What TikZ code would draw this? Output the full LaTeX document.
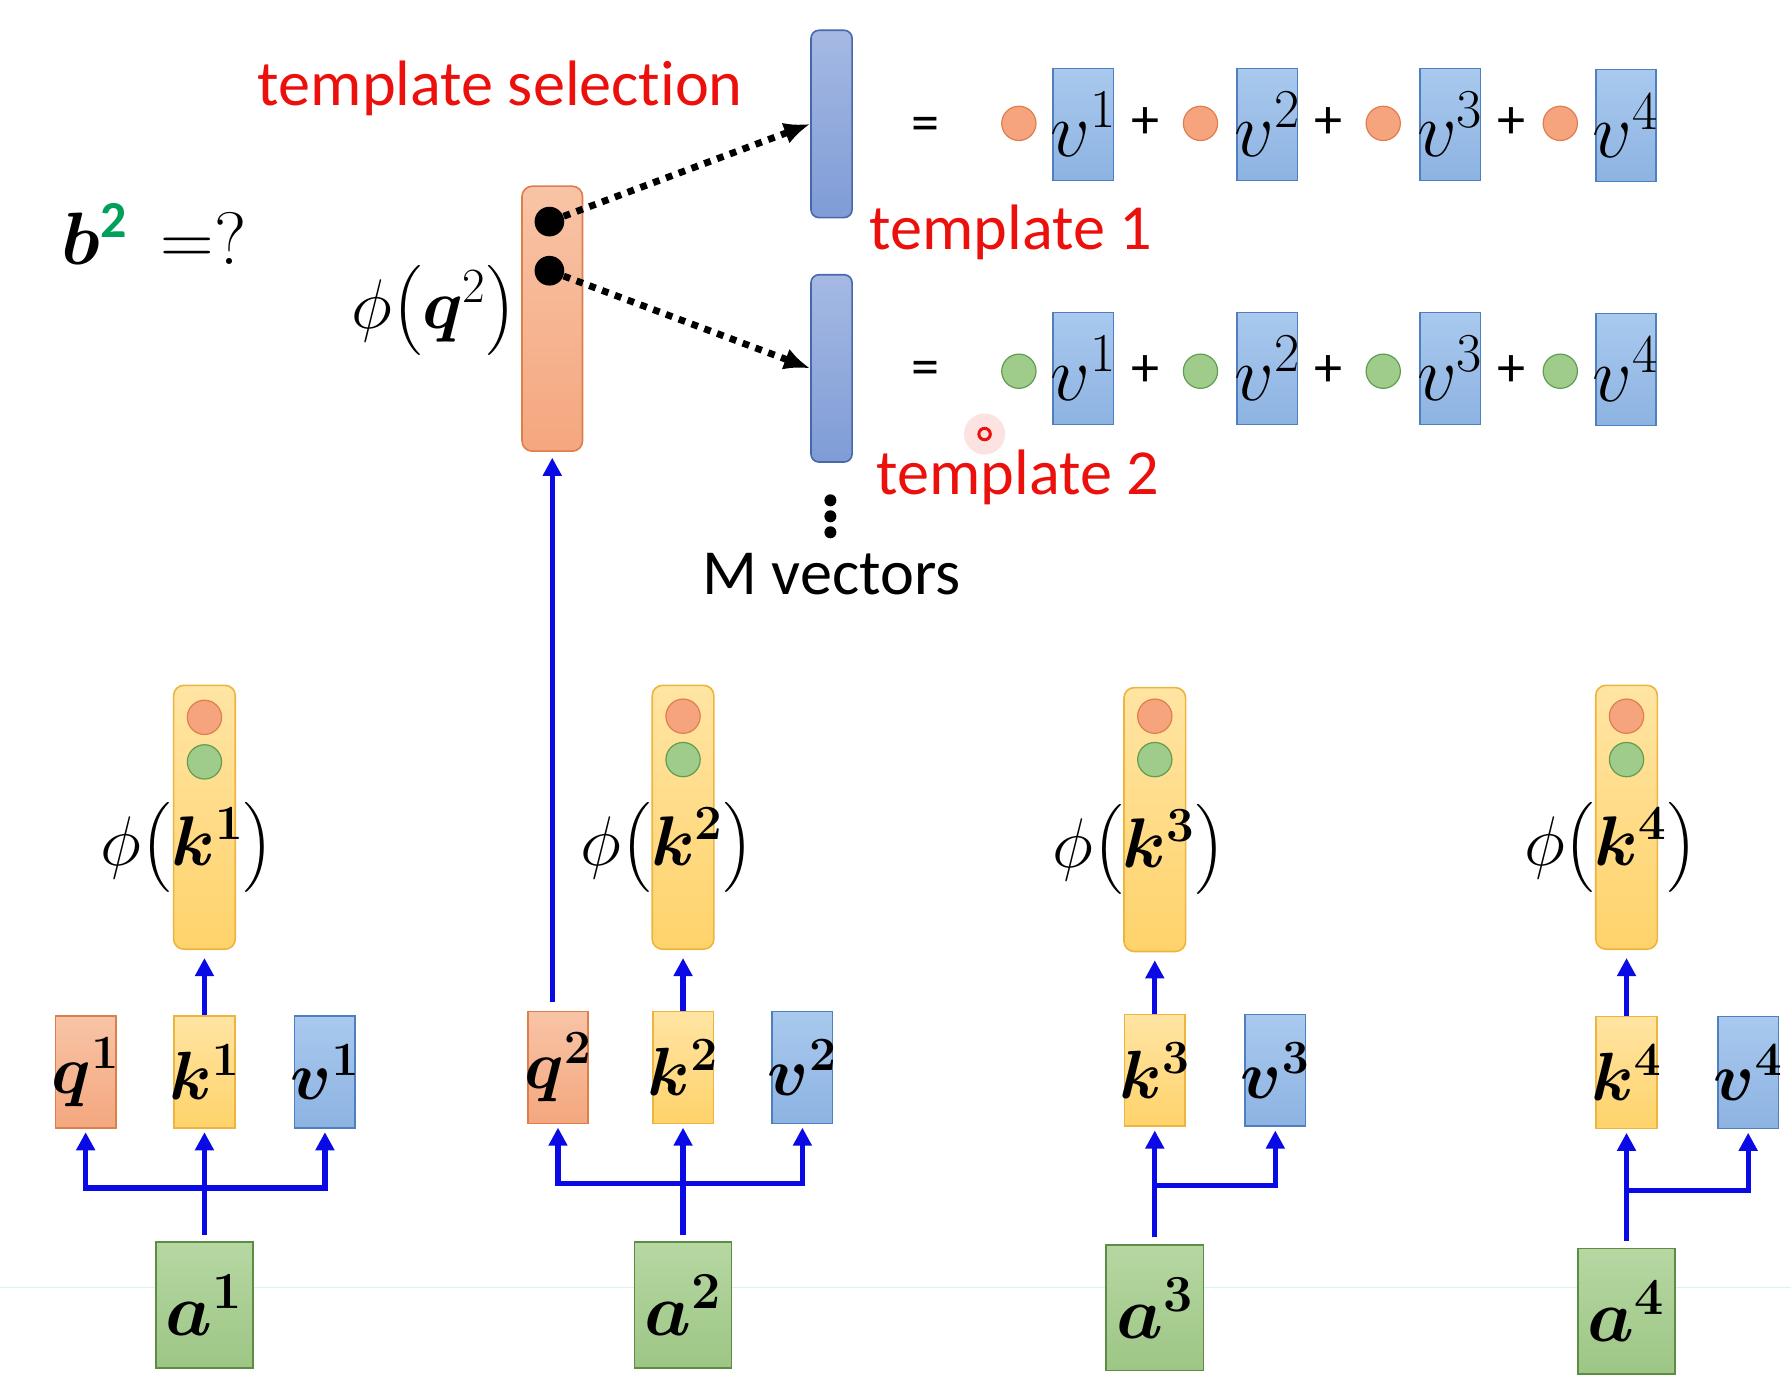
\RequirePackage{fix-cm}
\documentclass[tikz,border=0pt]{standalone}
\usepackage{amsmath,bm}
\usepackage{fontspec}
\setmainfont{Carlito}[Ligatures=NoCommon]
\usepackage{tikz}
\usetikzlibrary{arrows.meta,positioning,calc}
\definecolor{qlight}{HTML}{F8C4A6}
\definecolor{qdark}{HTML}{F4A77E}
\definecolor{qline}{HTML}{DD7E4D}
\definecolor{klight}{HTML}{FFE4A3}
\definecolor{kdark}{HTML}{FFD36B}
\definecolor{kline}{HTML}{EDB43E}
\definecolor{vlight}{HTML}{A9C9EE}
\definecolor{vdark}{HTML}{8DB3E2}
\definecolor{vline}{HTML}{4F7FBF}
\definecolor{alight}{HTML}{B6D7A2}
\definecolor{adark}{HTML}{9DC685}
\definecolor{aline}{HTML}{5D8C45}
\definecolor{tlight}{HTML}{A5B9E3}
\definecolor{tdark}{HTML}{7F9CD6}
\definecolor{tline}{HTML}{4868AC}
\definecolor{orangedot}{HTML}{F6A47D}
\definecolor{orangeline}{HTML}{DF7E4E}
\definecolor{greendot}{HTML}{9FCB8B}
\definecolor{greenline}{HTML}{619D51}
\definecolor{arrowblue}{HTML}{0A0AE6}
\definecolor{notered}{HTML}{EC100C}
\definecolor{supgreen}{HTML}{00A05A}
\definecolor{slideline}{HTML}{D8F2F8}
\newcommand{\cellsym}[1]{\makebox[0pt]{$#1$}}

\begin{document}
\begin{tikzpicture}[x=0.2mm, y=-0.2mm,
  cell/.style={inner sep=0pt, minimum width=10.6mm, minimum height=19.6mm,
               line width=0.8pt, font=\fontsize{34}{40}\selectfont},
  qbox/.style={cell, draw=qline, top color=qlight, bottom color=qdark},
  kbox/.style={cell, draw=kline, top color=klight, bottom color=kdark},
  vbox/.style={cell, draw=vline, top color=vlight, bottom color=vdark},
  abox/.style={cell, draw=aline, top color=alight, bottom color=adark,
               minimum width=17mm, minimum height=22mm, font=\fontsize{37}{44}\selectfont},
  phibox/.style={kbox, rounded corners=1.8mm, minimum width=10.8mm, minimum height=46.2mm},
  tmpl/.style={draw=tline, top color=tlight, bottom color=tdark, rounded corners=1.4mm,
               line width=0.8pt, minimum width=7.2mm, minimum height=32.8mm},
  odot/.style={circle, draw=orangeline, fill=orangedot, inner sep=0pt,
               minimum size=6mm, line width=0.6pt},
  gdot/.style={circle, draw=greenline, fill=greendot, inner sep=0pt,
               minimum size=6mm, line width=0.6pt},
  bdot/.style={circle, fill=black, inner sep=0pt, minimum size=5.2mm},
  sym/.style={inner sep=0pt, font=\fontsize{35}{42}\selectfont},
  note/.style={inner sep=0pt, font=\fontsize{32}{38}\selectfont, text=notered},
  op/.style={inner sep=0pt, font=\fontsize{28}{34}\selectfont},
  arr/.style={-{Triangle[length=9pt,width=9pt]}, line width=2.6pt, draw=arrowblue},
  sel/.style={-{Latex[length=13pt,width=11pt]}, line width=3.4pt,
              dash pattern=on 3.4pt off 3.4pt}
]
\useasboundingbox (0,0) rectangle (1568,1212);
\draw[slideline, line width=0.8pt] (0,1127) -- (1568,1127);

\node[note] (tsel) at (438,77) {template selection};
\node[sym, font=\fontsize{37}{44}\selectfont] (bq) at (135,205)
  {$\bm{b}^{\textcolor{supgreen}{\text{\bfseries 2}}}\;\,{=}?$};
\node[qbox, rounded corners=1.8mm, minimum width=10.6mm, minimum height=46.4mm] (phiq) at (483.5,279) {};
\node[bdot] (d1) at (481,194) {};
\node[bdot] (d2) at (481,237) {};
\node[sym] (lphiq) at (380,272) {$\phi\bigl(\bm{q}^2\bigr)$};
\node[tmpl] (t1) at (728,108.5) {};
\node[tmpl] (t2) at (728,322.5) {};
\draw[sel] (d1) -- (t1.west);
\draw[sel] (d2) -- (t2.west);
\node[note] (tl1) at (885,203) {template 1};
\node[note] (tl2) at (891,418) {template 2};
\fill (727,438) circle (1.05mm);
\fill (727,452) circle (1.05mm);
\fill (727,466) circle (1.05mm);
\node[op, font=\fontsize{32}{38}\selectfont] (mvec) at (728,503) {M vectors};
\fill[notered!12] (862,380) circle (3.6mm);
\draw[notered, line width=1.5pt] (862,380) circle (1mm);

\node[op] (eq1) at (810,113) {=};
\node[odot] (c11) at (892,108) {};
\node[vbox, font=\fontsize{39}{46}\selectfont] (w11) at (948.5,109) {\cellsym{v^1}};
\node[op] (p11) at (1003,108) {+};
\node[odot] (c12) at (1051,108) {};
\node[vbox, font=\fontsize{39}{46}\selectfont] (w12) at (1109.5,109) {\cellsym{v^2}};
\node[op] (p12) at (1163,108) {+};
\node[odot] (c13) at (1211,108) {};
\node[vbox, font=\fontsize{39}{46}\selectfont] (w13) at (1269.5,109) {\cellsym{v^3}};
\node[op] (p13) at (1323,108) {+};
\node[odot] (c14) at (1366,108) {};
\node[vbox, font=\fontsize{39}{46}\selectfont] (w14) at (1423.5,110) {\cellsym{v^4}};

\node[op] (eq2) at (810,327) {=};
\node[gdot] (c21) at (892,325) {};
\node[vbox, font=\fontsize{39}{46}\selectfont] (w21) at (948.5,322.5) {\cellsym{v^1}};
\node[op] (p21) at (1003,325) {+};
\node[gdot] (c22) at (1051,325) {};
\node[vbox, font=\fontsize{39}{46}\selectfont] (w22) at (1109.5,322.5) {\cellsym{v^2}};
\node[op] (p22) at (1163,325) {+};
\node[gdot] (c23) at (1211,325) {};
\node[vbox, font=\fontsize{39}{46}\selectfont] (w23) at (1269.5,322.5) {\cellsym{v^3}};
\node[op] (p23) at (1323,325) {+};
\node[gdot] (c24) at (1366,325) {};
\node[vbox, font=\fontsize{39}{46}\selectfont] (w24) at (1423.5,323.5) {\cellsym{v^4}};

\node[phibox] (phik1) at (179,715.5) {};
\node[odot] (o1) at (179,628) {};
\node[gdot] (g1) at (179,667) {};
\node[sym] (lk1) at (164,742) {$\phi\bigl(\bm{k^1}\bigr)$};
\node[qbox] (q1) at (75,938.5) {\cellsym{\bm{q^1}}};
\node[kbox] (k1) at (179,938.5) {\cellsym{\bm{k^1}}};
\node[vbox] (v1) at (284.5,938.5) {\cellsym{\bm{v^1}}};
\node[abox] (a1) at (179,1142.5) {\cellsym{\bm{a^1}}};
\coordinate (j1) at (179,1040);

\node[phibox] (phik2) at (598,715.5) {};
\node[odot] (o2) at (598,627) {};
\node[gdot] (g2) at (598,665) {};
\node[sym] (lk2) at (584,742) {$\phi\bigl(\bm{k^2}\bigr)$};
\node[qbox] (q2) at (488.5,934.5) {\cellsym{\bm{q^2}}};
\node[kbox] (k2) at (598,934.5) {\cellsym{\bm{k^2}}};
\node[vbox] (v2) at (702.5,934.5) {\cellsym{\bm{v^2}}};
\node[abox] (a2) at (598,1142.5) {\cellsym{\bm{a^2}}};
\coordinate (j2) at (598,1036);

\node[phibox] (phik3) at (1011,717.5) {};
\node[odot] (o3) at (1011,627) {};
\node[gdot] (g3) at (1011,665) {};
\node[sym] (lk3) at (997,744) {$\phi\bigl(\bm{k^3}\bigr)$};
\node[kbox] (k3) at (1011,937) {\cellsym{\bm{k^3}}};
\node[vbox] (v3) at (1116.5,937) {\cellsym{\bm{v^3}}};
\node[abox] (a3) at (1011,1145) {\cellsym{\bm{a^3}}};
\coordinate (j3) at (1011,1038);

\node[phibox] (phik4) at (1424,715.5) {};
\node[odot] (o4) at (1424,627) {};
\node[gdot] (g4) at (1424,665) {};
\node[sym] (lk4) at (1410,742) {$\phi\bigl(\bm{k^4}\bigr)$};
\node[kbox] (k4) at (1424,939) {\cellsym{\bm{k^4}}};
\node[vbox] (v4) at (1530.5,939) {\cellsym{\bm{v^4}}};
\node[abox] (a4) at (1424,1148) {\cellsym{\bm{a^4}}};
\coordinate (j4) at (1424,1042);

\draw[arr, shorten <=1.2mm, shorten >=0.6mm] (a1) -- (k1);
\draw[arr, shorten >=0.6mm] (j1) -| (q1);
\draw[arr, shorten >=0.6mm] (j1) -| (v1);
\draw[arr, shorten >=1.4mm] (k1) -- (phik1);
\draw[arr, shorten <=1.2mm, shorten >=0.6mm] (a2) -- (k2);
\draw[arr, shorten >=0.6mm] (j2) -| (q2);
\draw[arr, shorten >=0.6mm] (j2) -| (v2);
\draw[arr, shorten >=1.4mm] (k2) -- (phik2);
\draw[arr, shorten <=1.6mm, shorten >=1mm] (q2.north -| phiq.south) -- (phiq.south);
\draw[arr, shorten <=1.2mm, shorten >=0.6mm] (a3) -- (k3);
\draw[arr, shorten >=0.6mm] (j3) -| (v3);
\draw[arr, shorten >=1.4mm] (k3) -- (phik3);
\draw[arr, shorten <=1.2mm, shorten >=0.6mm] (a4) -- (k4);
\draw[arr, shorten >=0.6mm] (j4) -| (v4);
\draw[arr, shorten >=1.4mm] (k4) -- (phik4);
\end{tikzpicture}
\end{document}
